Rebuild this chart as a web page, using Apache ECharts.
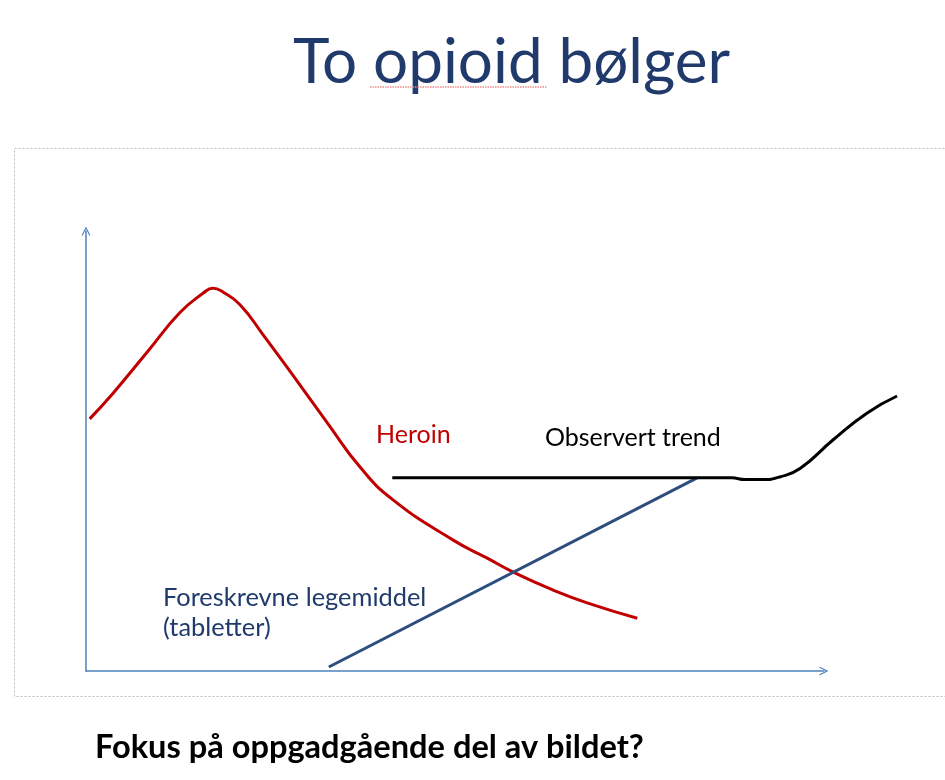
<!DOCTYPE html>
<html>
<head>
<meta charset="utf-8">
<title>To opioid bølger</title>
<script src="https://cdn.jsdelivr.net/npm/echarts@6/dist/echarts.min.js"></script>
<style>
  html, body { margin: 0; padding: 0; background: #fff; }
  #main { width: 945px; height: 780px; }
</style>
</head>
<body>
<div id="main"></div>
<script>
// data (x: 0-100 along the time axis, y: 0-100 up the level axis)
var heroinX = [0.5, 3.7, 8.3, 12.7, 15.9, 17.2, 18.6, 20.9, 24.0, 28.0, 32.7, 37.1, 41.6, 49.7, 54.3, 58.1, 63.3, 67.9, 74.7];
var heroinY = [57.3, 63.2, 72.5, 81.4, 85.9, 87.0, 86.1, 83.2, 76.4, 67.3, 56.4, 46.4, 38.9, 29.8, 25.7, 22.3, 18.4, 15.5, 12.0];

var pillsX = [32.9, 82.8];
var pillsY = [0.9, 43.9];

// the observed trend runs on past the end of the drawn time axis
var trendX = [41.5, 87.5, 89.3, 91.7, 94.0, 96.8, 101.2, 105.8, 109.9];
var trendY = [43.9, 43.9, 43.5, 43.5, 44.1, 46.1, 52.5, 58.6, 62.5];

var titleText = 'To opioid bølger';
var heroinLabel = 'Heroin';
var trendLabel = 'Observert trend';
var pillsLabel = 'Foreskrevne legemiddel\n(tabletter)';
var footText = 'Fokus på oppgadgående del av bildet?';

function pairs(xs, ys) {
  var out = [];
  for (var i = 0; i < xs.length; i++) out.push([xs[i], ys[i]]);
  return out;
}

var chart = echarts.init(document.getElementById('main'));

// open chevron used as the arrow head on both axes
var chevron = 'path://M0,10 L5,0 L10,10 L8.6,10 L5,2.8 L1.4,10 Z';
var axisBlue = '#4f81bd';
var hidden = { show: false };

var option = {
  animation: false,
  textStyle: { fontFamily: 'Lato' },
  grid: [
    // grid 0 only carries the two arrowed axes
    { left: 86, right: 121, top: 231, bottom: 109 },
    // grid 1 has the same scale but is wider so the trend can pass the arrow
    { left: 86, right: 32.4, top: 231, bottom: 109 }
  ],
  xAxis: [
    { gridIndex: 0, type: 'value', min: 0, max: 100,
      axisLine: { show: true, symbol: ['none', chevron], symbolSize: [13, 9], lineStyle: { color: axisBlue, width: 1.5 } },
      axisTick: hidden, axisLabel: hidden, splitLine: hidden },
    { gridIndex: 1, type: 'value', min: 0, max: 112, show: false, splitLine: hidden }
  ],
  yAxis: [
    { gridIndex: 0, type: 'value', min: 0, max: 100,
      axisLine: { show: true, symbol: ['none', chevron], symbolSize: [13, 9], lineStyle: { color: axisBlue, width: 1.5 } },
      axisTick: hidden, axisLabel: hidden, splitLine: hidden },
    { gridIndex: 1, type: 'value', min: 0, max: 100, show: false, splitLine: hidden }
  ],
  series: [
    {
      name: 'Heroin', type: 'line', xAxisIndex: 1, yAxisIndex: 1,
      smooth: 0.5, symbol: 'none',
      lineStyle: { color: '#c00000', width: 3 },
      data: pairs(heroinX, heroinY)
    },
    {
      name: 'Foreskrevne', type: 'line', xAxisIndex: 1, yAxisIndex: 1, symbol: 'none',
      lineStyle: { color: '#2e4d7f', width: 3 },
      data: pairs(pillsX, pillsY)
    },
    {
      name: 'Observert trend', type: 'line', xAxisIndex: 1, yAxisIndex: 1,
      smooth: 0.5, symbol: 'none',
      lineStyle: { color: '#000', width: 3 },
      data: pairs(trendX, trendY)
    }
  ],
  graphic: [
    // dotted frame round the chart
    { type: 'rect', z: -1, shape: { x: 14.5, y: 148.5, width: 940, height: 548 },
      style: { fill: 'none', stroke: '#bdbdbd', lineWidth: 1, lineDash: [2, 2] } },
    { type: 'text', left: 293, top: 32,
      style: { text: titleText, fill: '#1f3a6b', font: '62px Lato' } },
    // spell-check squiggle under "opioid"
    { type: 'line', shape: { x1: 370, y1: 87, x2: 547, y2: 87 },
      style: { stroke: '#f08c8c', lineWidth: 1.5, lineDash: [1.5, 1] } },
    { type: 'text', left: 376, top: 422,
      style: { text: heroinLabel, fill: '#c00000', font: '25px Lato' } },
    { type: 'text', left: 545, top: 425,
      style: { text: trendLabel, fill: '#000', font: '25px Lato' } },
    { type: 'text', left: 163, top: 583,
      style: { text: pillsLabel, fill: '#1f3a6b', font: '25.4px Lato', lineHeight: 30 } },
    { type: 'text', left: 95, top: 731,
      style: { text: footText, fill: '#000', font: 'bold 32.6px Lato' } }
  ]
};

chart.setOption(option);
</script>
</body>
</html>
